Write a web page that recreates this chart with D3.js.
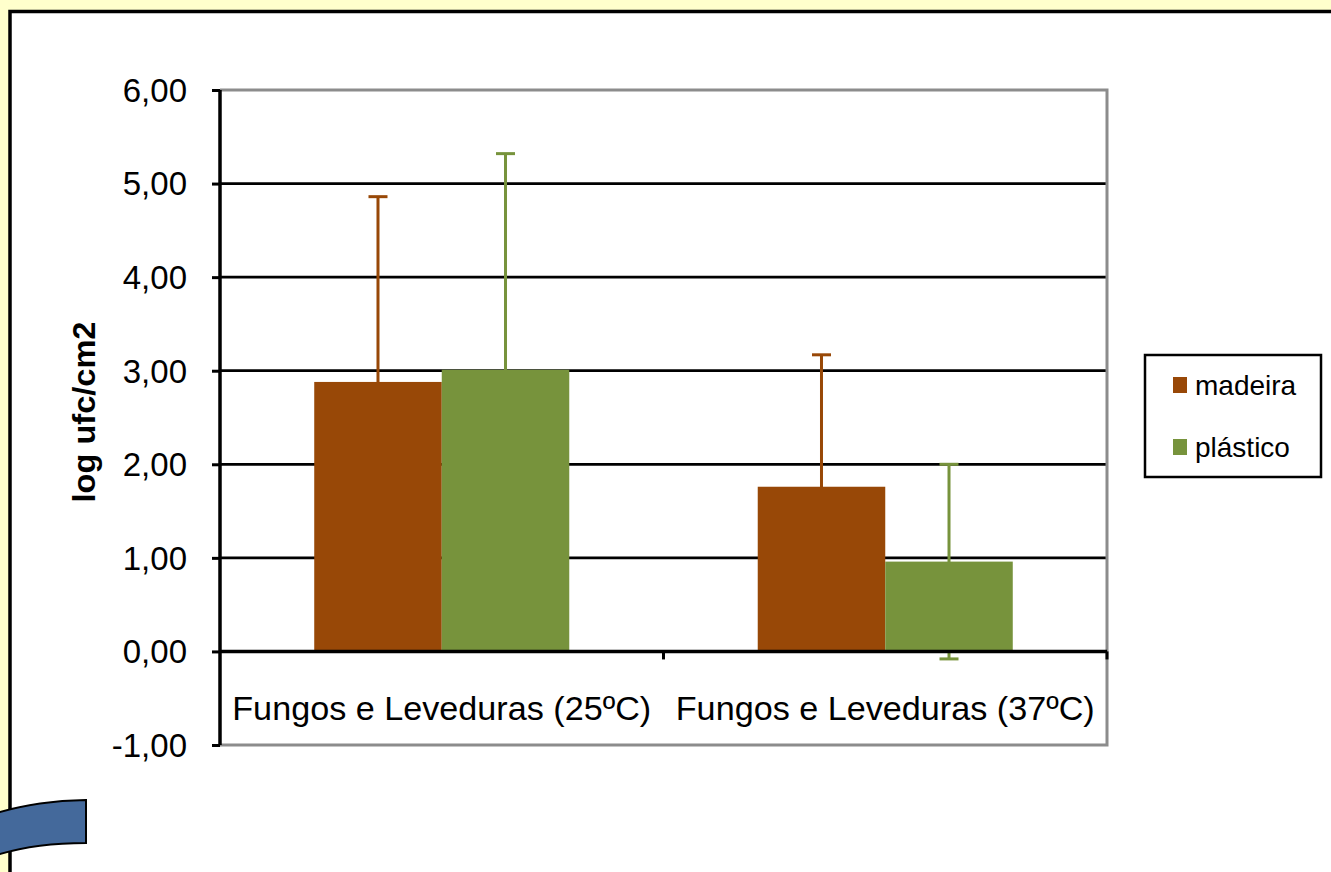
<!DOCTYPE html>
<html>
<head>
<meta charset="utf-8">
<script src="https://cdn.jsdelivr.net/npm/d3@7"></script>
<style>
  html, body { margin: 0; padding: 0; background: #FFFFCC; }
  svg { display: block; font-family: "Liberation Sans", Arial, sans-serif; }
</style>
</head>
<body>
<svg id="chart" width="1331" height="872"></svg>
<script>
// ---- data ----
const categories = ["Fungos e Leveduras (25ºC)", "Fungos e Leveduras (37ºC)"];
const seriesNames = ["madeira", "plástico"];
const madeira = [2.88, 1.76];
const plastico = [3.01, 0.96];
const madeiraErr = [1.98, 1.41];
const plasticoErr = [2.31, 1.04];
const yTickValues = [-1, 0, 1, 2, 3, 4, 5, 6];
const yTitle = "log ufc/cm2";

const colors = { "madeira": "#984807", "plástico": "#77933C" };

const rows = categories.map((c, i) => ({
  category: c,
  values: [
    { name: seriesNames[0], value: madeira[i], err: madeiraErr[i] },
    { name: seriesNames[1], value: plastico[i], err: plasticoErr[i] }
  ]
}));

const svg = d3.select("#chart");

// background and panel
svg.append("rect").attr("x", 0).attr("y", 0).attr("width", 1331).attr("height", 872).attr("fill", "#FFFFCC");
svg.append("rect").attr("x", 10).attr("y", 11.5).attr("width", 1340).attr("height", 880)
  .attr("fill", "#FFFFFF").attr("stroke", "#000").attr("stroke-width", 3.5);

// plot area
const plot = { left: 220, right: 1107, top: 90, bottom: 745 };

const x0 = d3.scaleBand().domain(categories).range([plot.left, plot.right]).paddingInner(0).paddingOuter(0);
const x1 = d3.scaleBand().domain(seriesNames).range([0, x0.bandwidth()]).paddingInner(0).paddingOuter(0.739);
const y = d3.scaleLinear().domain([-1, 6]).range([plot.bottom, plot.top]);

const fmt = v => d3.format(".2f")(v).replace(".", ",").replace("−", "-");

// plot background
svg.append("rect").attr("x", plot.left).attr("y", plot.top)
  .attr("width", plot.right - plot.left).attr("height", plot.bottom - plot.top)
  .attr("fill", "#fff");

// gridlines
svg.append("g").selectAll("line").data(yTickValues.filter(v => v > 0 && v < 6)).join("line")
  .attr("x1", plot.left).attr("x2", plot.right)
  .attr("y1", d => y(d)).attr("y2", d => y(d))
  .attr("stroke", "#000").attr("stroke-width", 2.8);

// plot border (gray)
svg.append("path")
  .attr("d", `M${plot.left},${plot.top}H${plot.right}V${plot.bottom}H${plot.left}`)
  .attr("fill", "none").attr("stroke", "#8C8C8C").attr("stroke-width", 3);

// error bars (behind bars)
const groups = svg.append("g").selectAll("g").data(rows).join("g")
  .attr("transform", d => `translate(${x0(d.category)},0)`);

const capW = 19;
groups.selectAll("g.err").data(d => d.values).join("g").attr("class", "err")
  .each(function(d) {
    const g = d3.select(this);
    const cx = x1(d.name) + x1.bandwidth() / 2;
    const c = d3.color(colors[d.name]);
    g.append("line").attr("x1", cx).attr("x2", cx)
      .attr("y1", y(d.value + d.err)).attr("y2", y(d.value - d.err))
      .attr("stroke", c).attr("stroke-width", 3);
    [d.value + d.err, d.value - d.err].forEach(v => {
      g.append("line").attr("x1", cx - capW / 2).attr("x2", cx + capW / 2)
        .attr("y1", y(v)).attr("y2", y(v))
        .attr("stroke", c).attr("stroke-width", 3);
    });
  });

// bars
groups.selectAll("rect.bar").data(d => d.values).join("rect").attr("class", "bar")
  .attr("x", d => x1(d.name))
  .attr("width", x1.bandwidth())
  .attr("y", d => y(Math.max(0, d.value)))
  .attr("height", d => Math.abs(y(d.value) - y(0)))
  .attr("fill", d => colors[d.name]);

// y axis
const yAxis = d3.axisLeft(y).tickValues(yTickValues).tickSize(8).tickFormat("");
const yg = svg.append("g").attr("transform", `translate(${plot.left},0)`).call(yAxis);
yg.select(".domain").attr("stroke", "#000").attr("stroke-width", 3.5).attr("d", `M0,${plot.top}V${plot.bottom}`);
yg.selectAll(".tick line").attr("stroke", "#000").attr("stroke-width", 3);

// y tick labels
svg.append("g").selectAll("text").data(yTickValues).join("text")
  .attr("x", 187).attr("y", d => y(d)).attr("dy", "0.36em")
  .attr("text-anchor", "end").attr("font-size", 33).attr("fill", "#000")
  .text(d => fmt(d));

// x axis at zero
const xAxis = d3.axisBottom(x0).tickSize(8).tickFormat("");
const xg = svg.append("g").attr("transform", `translate(0,${y(0)})`).call(xAxis);
xg.select(".domain").attr("stroke", "#000").attr("stroke-width", 3.5).attr("d", `M${plot.left},0H${plot.right}`);
xg.selectAll(".tick").remove();
xg.selectAll("line.sep").data([plot.left + x0.bandwidth(), plot.right]).join("line").attr("class", "sep")
  .attr("x1", d => d).attr("x2", d => d).attr("y1", 0).attr("y2", 8)
  .attr("stroke", "#000").attr("stroke-width", 3);

// category labels
svg.append("g").selectAll("text").data(categories).join("text")
  .attr("x", d => x0(d) + x0.bandwidth() / 2).attr("y", 720)
  .attr("text-anchor", "middle").attr("font-size", 33).attr("fill", "#000")
  .attr("textLength", 419).attr("lengthAdjust", "spacingAndGlyphs")
  .text(d => d);

// y title
svg.append("text")
  .attr("transform", "translate(95,412) rotate(-90)")
  .attr("text-anchor", "middle").attr("font-size", 31).attr("font-weight", "bold")
  .attr("textLength", 181).attr("lengthAdjust", "spacingAndGlyphs")
  .text(yTitle);

// legend
const lg = svg.append("g");
lg.append("rect").attr("x", 1145).attr("y", 355).attr("width", 176).attr("height", 122)
  .attr("fill", "#fff").attr("stroke", "#000").attr("stroke-width", 2.5);
const li = lg.selectAll("g.item").data(seriesNames).join("g").attr("class", "item")
  .attr("transform", (d, i) => `translate(1173,${377 + i * 62})`);
li.append("rect").attr("width", 14).attr("height", 16).attr("fill", d => colors[d]);
li.append("text").attr("x", 22).attr("y", 18).attr("font-size", 28).attr("fill", "#000").text(d => d);

// blue curved shape (decoration)
svg.append("path")
  .attr("d", "M-3,813 Q35,801 86,800 L86,843 Q35,843 -3,855 Z")
  .attr("fill", "#44699B").attr("stroke", "#000").attr("stroke-width", 2);
</script>
</body>
</html>
